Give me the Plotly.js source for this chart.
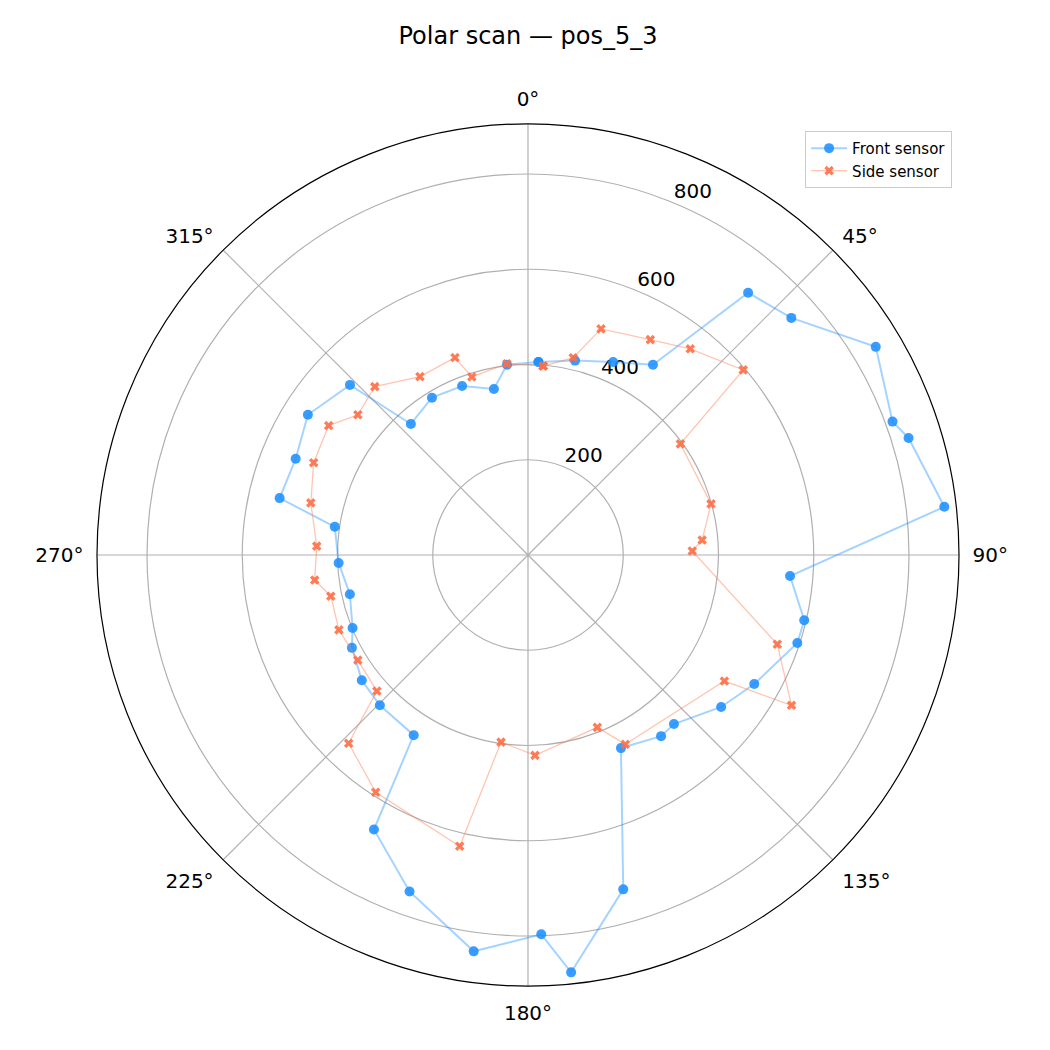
<!DOCTYPE html>
<html>
<head>
<meta charset="utf-8">
<script src="https://cdn.plot.ly/plotly-3.0.1.min.js"></script>
<style>
  body { margin: 0; background: #fff; }
  #chart { width: 1050px; height: 1050px; }
</style>
</head>
<body>
<div id="chart"></div>
<script>
// angles in degrees (clockwise from north), radii
var frontTheta = [3.1, 13.6, 23.8, 33.3, 40.0, 48.0, 59.1, 69.9, 72.9, 83.4,
  94.6, 103.3, 108.1, 119.7, 128.2, 139.2, 143.7, 154.3, 164.1, 174.1,
  178.0, 187.8, 199.4, 209.3, 212.4, 224.6, 233.0, 242.2, 247.4, 257.6,
  267.6, 278.3, 282.9, 292.5, 302.5, 313.7, 318.2, 328.6, 338.7, 348.4, 353.7];
var frontR = [406, 420, 443, 478, 719, 744, 851, 815, 836, 880,
  552, 596, 595, 547, 516, 469, 472, 450, 730, 881,
  797, 840, 749, 661, 448, 443, 437, 418, 399, 383,
  398, 410, 535, 528, 548, 517, 369, 387, 381, 356, 402];

var sideTheta = [4.6, 12.9, 17.9, 29.6, 38.2, 49.3, 53.9, 74.4, 85.1, 88.6,
  109.7, 119.7, 122.7, 152.8, 158.1, 178.0, 188.2, 193.2, 212.7, 223.6,
  228.0, 238.3, 248.4, 258.2, 263.3, 272.4, 283.5, 293.3, 303.0, 309.5,
  317.7, 328.8, 339.7, 342.5, 353.7];
var sideR = [398, 425, 499, 520, 551, 596, 396, 399, 367, 345,
  556, 637, 490, 447, 390, 421, 397, 628, 592, 546,
  427, 420, 427, 423, 451, 444, 469, 490, 499, 463,
  478, 438, 442, 392, 404];

var angleTicks = [0, 45, 90, 135, 180, 225, 270, 315];
var angleLabels = ['0°', '45°', '90°', '135°', '180°', '225°', '270°', '315°'];
var radialTicks = [200, 400, 600, 800];
var rLabelAngle = 22.5;
var rMax = 905;

// close the loops
function closed(a) { return a.concat([a[0]]); }

// radial tick labels, matplotlib style (horizontal, at 22.5 deg)
var rLabels = {
  type: 'scatterpolar',
  mode: 'text',
  r: radialTicks,
  theta: radialTicks.map(function() { return rLabelAngle; }),
  text: radialTicks.map(String),
  textposition: 'top right',
  textfont: {size: 20, color: '#000'},
  showlegend: false,
  hoverinfo: 'skip',
  cliponaxis: false
};

var front = {
  type: 'scatterpolar',
  mode: 'lines+markers',
  name: 'Front sensor',
  theta: closed(frontTheta),
  r: closed(frontR),
  line: {color: 'rgba(30,144,255,0.4)', width: 2},
  marker: {color: 'rgba(30,144,255,0.88)', size: 10, symbol: 'circle'}
};
var side = {
  type: 'scatterpolar',
  mode: 'lines+markers',
  name: 'Side sensor',
  theta: closed(sideTheta),
  r: closed(sideR),
  line: {color: 'rgba(255,127,80,0.45)', width: 1.3},
  marker: {color: 'rgba(255,110,70,0.9)', size: 8.5, symbol: 'x'}
};

var layout = {
  width: 1050,
  height: 1050,
  paper_bgcolor: '#ffffff',
  font: {family: 'DejaVu Sans', size: 20, color: '#000'},
  margin: {l: 97, r: 91, t: 124, b: 64},
  title: {
    text: 'Polar scan — pos_5_3',
    font: {size: 24, color: '#000'},
    xref: 'paper', x: 0.5, xanchor: 'center',
    yref: 'container', y: 0.966, yanchor: 'middle'
  },
  showlegend: true,
  legend: {
    x: 0.992, y: 0.992, xanchor: 'right', yanchor: 'top',
    bgcolor: 'rgba(255,255,255,0.8)',
    bordercolor: '#cccccc', borderwidth: 1,
    font: {size: 15},
    itemwidth: 36,
    tracegroupgap: 0
  },
  polar: {
    domain: {x: [0, 1], y: [0, 1]},
    bgcolor: '#ffffff',
    angularaxis: {
      rotation: 90,
      direction: 'clockwise',
      tickmode: 'array',
      tickvals: angleTicks,
      ticktext: angleLabels,
      showline: true,
      linecolor: '#000',
      linewidth: 1.2,
      showgrid: true,
      gridcolor: '#b0b0b0',
      gridwidth: 1.2,
      ticks: 'outside',
      ticklen: 9,
      tickcolor: 'rgba(0,0,0,0)',
      tickfont: {size: 20}
    },
    radialaxis: {
      range: [0, rMax],
      angle: 67.5,
      tickmode: 'array',
      tickvals: radialTicks,
      showticklabels: false,
      showline: false,
      ticks: '',
      showgrid: true,
      gridcolor: '#b0b0b0',
      gridwidth: 1.2
    }
  }
};

Plotly.newPlot('chart', [rLabels, front, side], layout, {displayModeBar: false, staticPlot: true});
</script>
</body>
</html>
